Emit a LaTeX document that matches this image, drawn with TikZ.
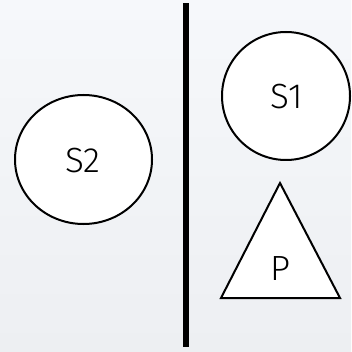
\documentclass[tikz,border=0pt]{standalone}
\usepackage{fontspec}
\setmainfont{Fira Sans Light}
\definecolor{bgtop}{RGB}{246,248,251}
\definecolor{bgbot}{RGB}{237,239,242}
\begin{document}
\begin{tikzpicture}[x=1pt,y=-1pt,
  shapeline/.style={draw=black,line width=2pt,fill=white},
  lbl/.style={font=\fontsize{35}{35}\selectfont,inner sep=0pt}]
\useasboundingbox (0,0) rectangle (351,352);
\shade[top color=bgtop,bottom color=bgbot] (0,0) rectangle (351,352);
\coordinate (ltop) at (186,3.5);
\coordinate (lbot) at (186,347);
\draw[line width=6pt] (ltop) -- (lbot);
\draw[shapeline] (286,96) ellipse [x radius=64,y radius=64];
\node[lbl] (s1) at (287,97) {S1};
\draw[shapeline] (83.5,159.5) ellipse [x radius=68.5,y radius=64.5];
\node[lbl] (s2) at (83,161) {S2};
\coordinate (ta) at (280,183);
\coordinate (tl) at (221,298);
\coordinate (tr) at (340,298);
\draw[shapeline,line join=miter] (ta) -- (tl) -- (tr) -- cycle;
\node[lbl] (p) at (280,269) {P};
\end{tikzpicture}
\end{document}
